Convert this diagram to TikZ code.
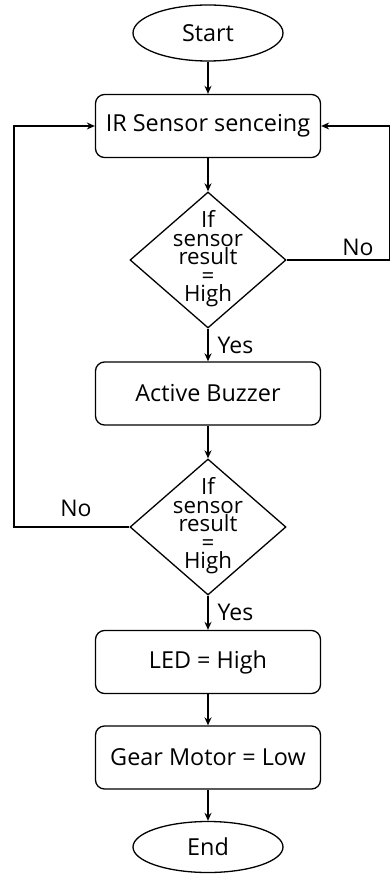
\documentclass[tikz,border=0pt]{standalone}
\usepackage{fontspec}
\setmainfont{Open Sans}
\usetikzlibrary{shapes.geometric,arrows.meta}
\newcommand\myDiaFont{\fontsize{22.3}{18.5}\selectfont\lineskiplimit-50pt\relax}
\begin{document}
\begin{tikzpicture}[x=1pt,y=-1pt, line width=1.3pt,
  proc/.style={draw, rounded corners=9pt, minimum width=225pt, minimum height=63pt, inner sep=2pt, font=\fontsize{23.4}{24}\selectfont},
  term/.style={draw, ellipse, minimum width=150pt, minimum height=56pt, inner sep=1pt, font=\fontsize{23.4}{24}\selectfont},
  dec/.style={draw, diamond, minimum width=156pt, minimum height=136pt, inner sep=0pt},
  dtext/.style={align=center, font=\myDiaFont, inner sep=0pt},
  arr/.style={-{Stealth[length=8pt,width=7pt]}},
  lbl/.style={font=\fontsize{23}{24}\selectfont, inner sep=0pt}]
\useasboundingbox (0,0) rectangle (391,874);
\node[term] (start) at (208,33) {Start};
\node[proc] (ir) at (208,126) {IR Sensor senceing};
\node[dec] (d1) at (208,260) {};
\node[dtext] (d1t) at (208,259) {If\\sensor\\result\\=\\High};
\node[proc] (buz) at (208,393.5) {Active Buzzer};
\node[dec] (d2) at (208,527) {};
\node[dtext] (d2t) at (208,526) {If\\sensor\\result\\=\\High};
\node[proc] (led) at (208,662) {LED = High};
\node[proc] (gear) at (208,757.5) {Gear Motor = Low};
\node[term, minimum height=51pt] (end) at (208,847) {End};
\coordinate (rx) at (389.5,0);
\coordinate (lx) at (14,0);
\draw[arr] (start) -- (ir);
\draw[arr] (ir) -- (d1);
\draw[arr] (d1) -- node[lbl, anchor=west, xshift=9pt]{Yes} (buz);
\draw[arr] (buz) -- (d2);
\draw[arr] (d2) -- node[lbl, anchor=west, xshift=9pt]{Yes} (led);
\draw[arr] (led) -- (gear);
\draw[arr] (gear) -- (end);
\draw[arr] (d1.east) -- (d1.east -| rx) |- (ir.east);
\draw[arr] (d2.west) -- (d2.west -| lx) |- (ir.west);
\node[lbl] (no1) at (358,247) {No};
\node[lbl] (no2) at (76,508) {No};
\end{tikzpicture}
\end{document}
